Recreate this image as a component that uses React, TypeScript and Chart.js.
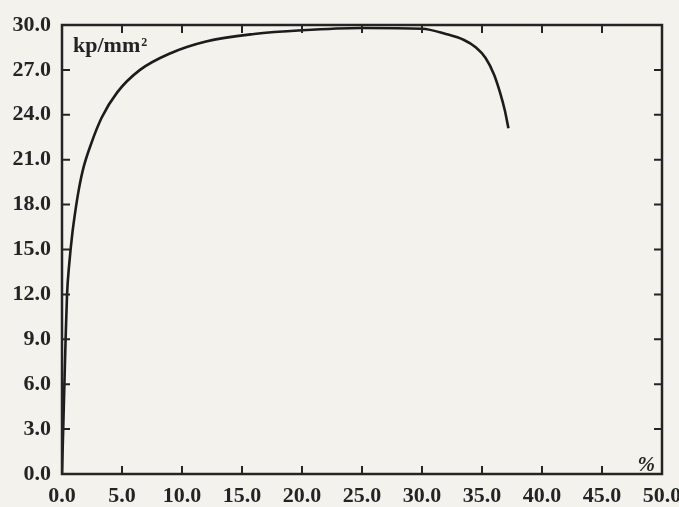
import React, { useEffect, useRef } from "react";
import { Chart, registerables } from "chart.js";

Chart.register(...registerables);

const strainPct = [0, 0.1, 0.2, 0.3, 0.42, 0.6, 0.85, 1.1, 1.4, 1.8, 2.4, 3.3, 4.6, 6.5, 9, 12, 16, 20, 25, 30, 32, 33.5, 34.5, 35.3, 36, 36.5, 36.9, 37.2];
const stressKp = [0, 3, 6, 9, 12, 14, 16, 17.5, 19, 20.5, 22, 23.8, 25.5, 27, 28.1, 28.9, 29.4, 29.65, 29.8, 29.75, 29.4, 29.0, 28.5, 27.8, 26.7, 25.5, 24.3, 23.1];
const xTickStep = 5;
const yTickStep = 3;
const yUnitLabel = "kp/mm²";
const xUnitLabel = "%";

const INK = "#242424";
const FONT = "Liberation Serif";

const frameTicks = {
  id: "frameTicks",
  afterDraw(chart: any) {
    const { ctx, chartArea: a, scales } = chart;
    const xs = scales.x;
    const ys = scales.y;
    ctx.save();
    ctx.strokeStyle = INK;
    ctx.lineWidth = 2.5;
    ctx.strokeRect(a.left, a.top, a.right - a.left, a.bottom - a.top);
    ctx.lineWidth = 2;
    const len = 8;
    ctx.beginPath();
    xs.ticks.forEach((t: any) => {
      if (t.value <= xs.min || t.value >= xs.max) return;
      const px = xs.getPixelForValue(t.value);
      ctx.moveTo(px, a.bottom);
      ctx.lineTo(px, a.bottom - len);
      ctx.moveTo(px, a.top);
      ctx.lineTo(px, a.top + len);
    });
    ys.ticks.forEach((t: any) => {
      if (t.value <= ys.min || t.value >= ys.max) return;
      const py = ys.getPixelForValue(t.value);
      ctx.moveTo(a.left, py);
      ctx.lineTo(a.left + len, py);
      ctx.moveTo(a.right, py);
      ctx.lineTo(a.right - len, py);
    });
    ctx.stroke();
    ctx.fillStyle = INK;
    ctx.font = `bold 22px "${FONT}"`;
    ctx.textAlign = "left";
    ctx.textBaseline = "alphabetic";
    const base = yUnitLabel.replace("²", "");
    ctx.fillText(base, a.left + 11, a.top + 27);
    const w = ctx.measureText(base).width;
    ctx.font = `bold 12px "${FONT}"`;
    ctx.fillText("2", a.left + 12 + w, a.top + 21);
    ctx.font = `bold italic 21px "${FONT}"`;
    ctx.textAlign = "right";
    ctx.fillText(xUnitLabel, a.right - 7, a.bottom - 3);
    ctx.restore();
  },
};

export default function App() {
  const ref = useRef<HTMLCanvasElement>(null);
  useEffect(() => {
    document.body.style.margin = "0";
    const chart = new Chart(ref.current!, {
      type: "line",
      data: {
        datasets: [
          {
            data: strainPct.map((x, i) => ({ x, y: stressKp[i] })),
            borderColor: "#1c1c1c",
            borderWidth: 2.6,
            pointRadius: 0,
            cubicInterpolationMode: "monotone",
            fill: false,
          },
        ],
      },
      options: {
        responsive: false,
        animation: false,
        layout: { padding: { top: 25, right: 17, left: 0, bottom: 0 } },
        plugins: { legend: { display: false }, tooltip: { enabled: false } },
        scales: {
          x: {
            type: "linear",
            min: 0,
            max: 50,
            afterFit: (s: any) => { s.height = 33; s.paddingLeft = 0; s.paddingRight = 0; },
            grid: { display: false, drawTicks: false },
            border: { display: false },
            ticks: {
              stepSize: xTickStep,
              padding: 9,
              color: INK,
              font: { family: FONT, weight: "bold", size: 22 },
              callback: (v: any) => Number(v).toFixed(1),
              maxRotation: 0,
              autoSkip: false,
            },
          },
          y: {
            type: "linear",
            min: 0,
            max: 30,
            afterFit: (s: any) => { s.width = 62; s.paddingTop = 0; s.paddingBottom = 0; },
            grid: { display: false, drawTicks: false },
            border: { display: false },
            ticks: {
              stepSize: yTickStep,
              padding: 11,
              color: INK,
              font: { family: FONT, weight: "bold", size: 22 },
              callback: (v: any) => Number(v).toFixed(1),
              autoSkip: false,
            },
          },
        },
      },
      plugins: [frameTicks],
    });
    return () => chart.destroy();
  }, []);
  return (
    <div style={{ position: "fixed", left: 0, top: 0, width: 679, height: 507, background: "#f4f2ec" }}>
      <canvas ref={ref} width={679} height={507} />
    </div>
  );
}
